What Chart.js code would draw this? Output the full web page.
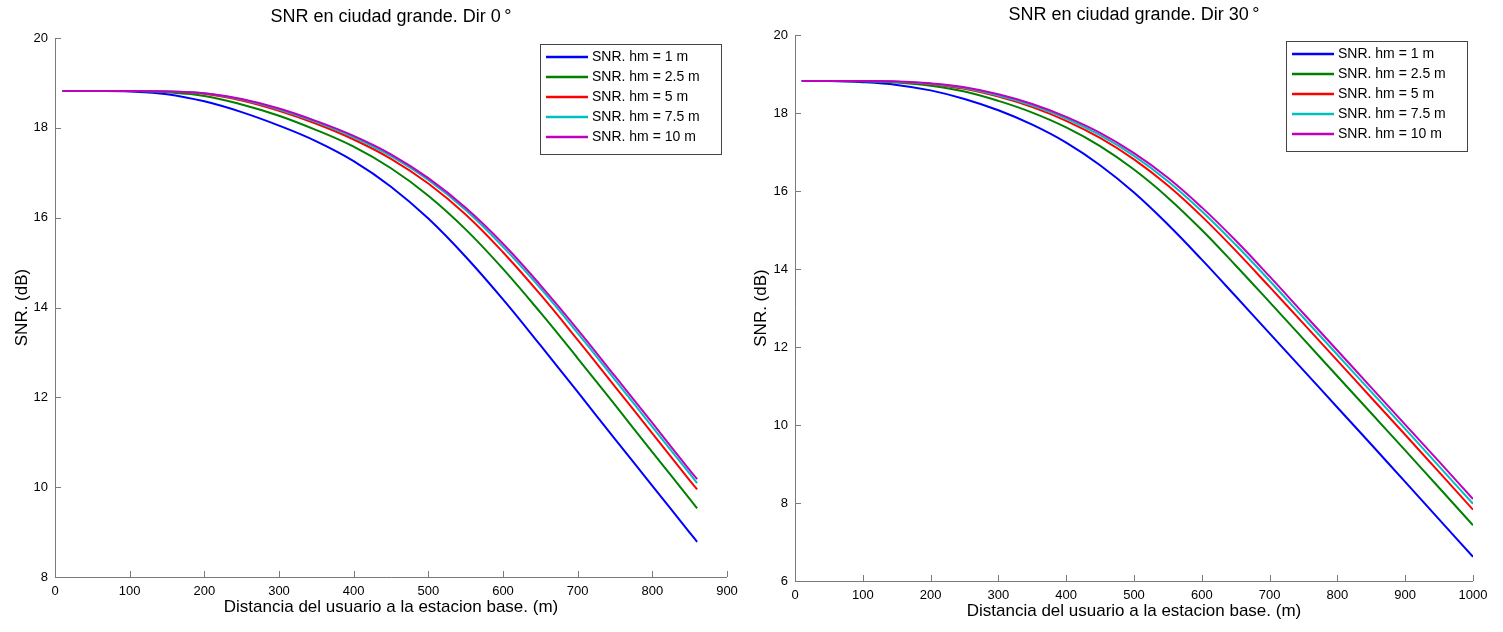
<!DOCTYPE html>
<html>
<head>
<meta charset="utf-8">
<title>SNR en ciudad grande</title>
<script src="https://cdn.jsdelivr.net/npm/chart.js@4.4.1/dist/chart.umd.min.js"></script>
<style>
  html, body { margin: 0; padding: 0; background: #fff; }
  body { width: 1503px; height: 632px; position: relative; overflow: hidden; }
  canvas { position: absolute; top: 0; }
  #chartDir0 { left: 0; }
  #chartDir30 { left: 750px; }
</style>
</head>
<body>
<canvas id="chartDir0" width="750" height="632"></canvas>
<canvas id="chartDir30" width="753" height="632"></canvas>
<script>
// Series labels and colours (old MATLAB b, g, r, c, m)
const hmLabels = ["SNR. hm = 1 m", "SNR. hm = 2.5 m", "SNR. hm = 5 m", "SNR. hm = 7.5 m", "SNR. hm = 10 m"];
const hmColors = ["#0000ff", "#008000", "#ff0000", "#00bfbf", "#bf00bf"];

// Dir 0 deg
const distDir0 = [10, 50, 100, 150, 200, 250, 300, 350, 400, 450, 500, 550, 600, 650, 700, 750, 800, 850, 860];
const snrDir0Hm1 = [18.82, 18.82, 18.81, 18.75, 18.59, 18.35, 18.05, 17.70, 17.26, 16.69, 15.98, 15.13, 14.18, 13.16, 12.12, 11.07, 10.03, 8.99, 8.78];
const snrDir0Hm25 = [18.82, 18.82, 18.82, 18.79, 18.71, 18.52, 18.27, 17.95, 17.58, 17.10, 16.49, 15.74, 14.86, 13.89, 12.87, 11.83, 10.78, 9.74, 9.53];
const snrDir0Hm5 = [18.82, 18.82, 18.82, 18.81, 18.76, 18.61, 18.38, 18.09, 17.74, 17.31, 16.76, 16.07, 15.23, 14.29, 13.28, 12.24, 11.20, 10.15, 9.95];
const snrDir0Hm75 = [18.82, 18.82, 18.82, 18.81, 18.77, 18.63, 18.41, 18.13, 17.79, 17.37, 16.84, 16.17, 15.35, 14.43, 13.43, 12.39, 11.34, 10.30, 10.09];
const snrDir0Hm10 = [18.82, 18.82, 18.82, 18.81, 18.77, 18.64, 18.43, 18.15, 17.82, 17.41, 16.88, 16.22, 15.42, 14.50, 13.51, 12.47, 11.43, 10.38, 10.18];

// Dir 30 deg
const distDir30 = [10, 50, 100, 150, 200, 250, 300, 350, 400, 450, 500, 550, 600, 650, 700, 750, 800, 850, 900, 950, 1000];
const snrDir30Hm1 = [18.82, 18.82, 18.79, 18.72, 18.58, 18.36, 18.07, 17.70, 17.24, 16.66, 15.96, 15.14, 14.24, 13.30, 12.35, 11.40, 10.45, 9.50, 8.54, 7.58, 6.62];
const snrDir30Hm25 = [18.82, 18.82, 18.81, 18.78, 18.70, 18.55, 18.31, 18.01, 17.63, 17.15, 16.55, 15.83, 15.00, 14.09, 13.15, 12.20, 11.25, 10.30, 9.35, 8.39, 7.43];
const snrDir30Hm5 = [18.82, 18.82, 18.82, 18.80, 18.74, 18.62, 18.42, 18.15, 17.80, 17.36, 16.81, 16.14, 15.35, 14.47, 13.54, 12.60, 11.65, 10.70, 9.75, 8.79, 7.83];
const snrDir30Hm75 = [18.82, 18.82, 18.82, 18.80, 18.75, 18.64, 18.45, 18.19, 17.86, 17.43, 16.90, 16.25, 15.48, 14.62, 13.70, 12.75, 11.80, 10.85, 9.90, 8.94, 7.98];
const snrDir30Hm10 = [18.82, 18.82, 18.82, 18.81, 18.76, 18.66, 18.48, 18.23, 17.90, 17.49, 16.97, 16.34, 15.58, 14.73, 13.81, 12.86, 11.91, 10.96, 10.01, 9.06, 8.10];

const FONT = '"Liberation Sans", Arial, Helvetica, sans-serif';
const AXIS_COLOR = "#7a7a7a";
Chart.defaults.font.family = FONT;
Chart.defaults.color = "#000";

// Draws MATLAB-like axes (inward ticks), the title and a boxed legend inside the plot
const matlabAxes = {
  id: "matlabAxes",
  afterDraw(chart, args, opts) {
    const { ctx, chartArea: area } = chart;
    const xs = chart.scales.x, ys = chart.scales.y;
    ctx.save();

    ctx.strokeStyle = AXIS_COLOR;
    ctx.lineWidth = 1;
    ctx.beginPath();
    ctx.moveTo(Math.round(area.left) + 0.5, area.top);
    ctx.lineTo(Math.round(area.left) + 0.5, Math.round(area.bottom) + 0.5);
    ctx.lineTo(area.right, Math.round(area.bottom) + 0.5);
    xs.ticks.forEach(t => {
      const px = Math.round(xs.getPixelForValue(t.value)) + 0.5;
      ctx.moveTo(px, area.bottom);
      ctx.lineTo(px, area.bottom - 6);
    });
    ys.ticks.forEach(t => {
      const py = Math.round(ys.getPixelForValue(t.value)) + 0.5;
      ctx.moveTo(area.left, py);
      ctx.lineTo(area.left + 6, py);
    });
    ctx.stroke();

    // title
    ctx.fillStyle = "#000";
    ctx.font = "18px " + FONT;
    ctx.textAlign = "center";
    ctx.textBaseline = "middle";
    ctx.fillText(opts.text, (area.left + area.right) / 2 + (opts.dx || 0), opts.y);

    // legend
    const items = chart.data.datasets;
    const boxW = 181, rowH = 20, boxH = items.length * rowH + 10;
    const bx = Math.round(area.right - 6 - boxW), by = Math.round(area.top + 6);
    ctx.fillStyle = "#fff";
    ctx.fillRect(bx, by, boxW, boxH);
    ctx.strokeStyle = "#444";
    ctx.strokeRect(bx + 0.5, by + 0.5, boxW, boxH);
    ctx.font = "14px " + FONT;
    ctx.textAlign = "left";
    items.forEach((ds, i) => {
      const cy = by + 13 + i * rowH;
      ctx.strokeStyle = ds.borderColor;
      ctx.lineWidth = 2.5;
      ctx.beginPath();
      ctx.moveTo(bx + 6, cy);
      ctx.lineTo(bx + 48, cy);
      ctx.stroke();
      ctx.fillStyle = "#000";
      ctx.fillText(ds.label, bx + 52, cy);
    });
    ctx.restore();
  }
};

function makeDatasets(dist, series) {
  return series.map((vals, i) => ({
    label: hmLabels[i],
    data: dist.map((d, k) => ({ x: d, y: vals[k] })),
    borderColor: hmColors[i],
    backgroundColor: hmColors[i],
    borderWidth: 2,
    pointRadius: 0,
    tension: 0.4,
    order: series.length - i
  }));
}

function makeChart(id, cfg) {
  return new Chart(document.getElementById(id), {
    type: "line",
    data: { datasets: makeDatasets(cfg.dist, cfg.series) },
    options: {
      responsive: false,
      animation: false,
      layout: { padding: cfg.padding },
      plugins: {
        legend: { display: false },
        tooltip: { enabled: false },
        matlabAxes: { text: cfg.title, y: cfg.titleY, dx: cfg.titleDx }
      },
      scales: {
        x: {
          type: "linear",
          min: 0,
          max: cfg.xMax,
          grid: { display: false, drawTicks: false },
          border: { display: false },
          ticks: { stepSize: 100, padding: 7, font: { size: 13 }, maxRotation: 0, callback: v => String(v) },
          title: { display: true, text: "Distancia del usuario a la estacion base. (m)", font: { size: 17 }, padding: { top: 4, bottom: cfg.xTitlePad } },
          afterFit: s => { s.height = cfg.xHeight; }
        },
        y: {
          min: cfg.yMin,
          max: 20,
          grid: { display: false, drawTicks: false },
          border: { display: false },
          ticks: { stepSize: 2, padding: 7, font: { size: 13 }, callback: v => String(v) },
          title: { display: true, text: "SNR. (dB)", font: { size: 17 }, padding: { top: cfg.yTitlePad, bottom: 0 } },
          afterFit: s => { s.width = cfg.yWidth; }
        }
      }
    },
    plugins: [matlabAxes]
  });
}

makeChart("chartDir0", {
  dist: distDir0,
  series: [snrDir0Hm1, snrDir0Hm25, snrDir0Hm5, snrDir0Hm75, snrDir0Hm10],
  title: "SNR en ciudad grande. Dir 0\u2009°",
  titleY: 17, titleDx: 0,
  xMax: 900, yMin: 8,
  padding: { top: 38, right: 23, bottom: 0, left: 0 },
  xHeight: 55, yWidth: 55, yTitlePad: 12, xTitlePad: 14
});

makeChart("chartDir30", {
  dist: distDir30,
  series: [snrDir30Hm1, snrDir30Hm25, snrDir30Hm5, snrDir30Hm75, snrDir30Hm10],
  title: "SNR en ciudad grande. Dir 30\u2009°",
  titleY: 15, titleDx: 0,
  xMax: 1000, yMin: 6,
  padding: { top: 35, right: 30, bottom: 0, left: 0 },
  xHeight: 51, yWidth: 45, yTitlePad: 1, xTitlePad: 10
});
</script>
</body>
</html>
